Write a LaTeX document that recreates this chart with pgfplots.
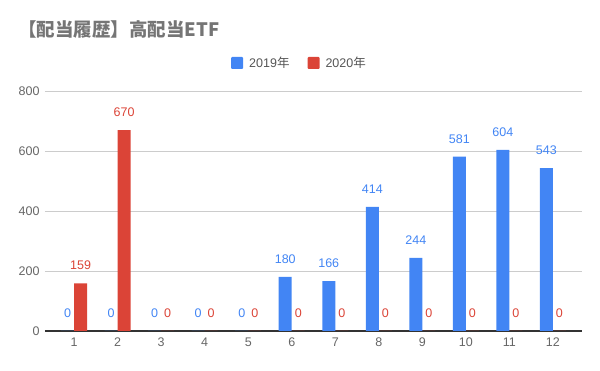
\documentclass[border=0pt]{standalone}
\usepackage{fontspec}
\setmainfont{Liberation Sans}
\newfontfamily\cjk{Noto Sans CJK JP}
\usepackage{pgfplots}
\pgfplotsset{compat=1.18}
\definecolor{cblue}{HTML}{4285F4}
\definecolor{cred}{HTML}{DB4437}
\definecolor{cgrid}{HTML}{CCCCCC}
\definecolor{ctick}{HTML}{666666}
\definecolor{clegend}{HTML}{555555}
\definecolor{ctitle}{HTML}{757575}
\definecolor{caxis}{HTML}{333333}
\begin{document}
\begin{tikzpicture}
\path[use as bounding box] (-45pt,-40pt) rectangle (555pt,331pt);
\begin{axis}[
  scale only axis, width=537pt, height=240pt,
  at={(0pt,0pt)}, anchor=south west,
  ybar=0pt, bar width=13pt,
  xmin=0.33, xmax=12.67, ymin=0, ymax=800,
  xtick={1,...,12}, ytick={0,200,...,800},
  major tick length=0pt,
  ymajorgrids, grid style={cgrid, line width=0.8pt},
  axis x line*=bottom, axis y line*=left,
  x axis line style={caxis, line width=1.2pt, -},
  y axis line style={draw=none},
  tick label style={font=\fontsize{12.5}{13}\selectfont, text=ctick},
  /pgf/number format/assume math mode=true,
  xticklabel style={yshift=-3pt},
  yticklabel style={xshift=-2pt},
  nodes near coords,
  every node near coord/.append style={font=\fontsize{12.5}{13}\selectfont, yshift=10pt},
  legend columns=2,
  legend style={draw=none, fill=none, at={(0.474,1.1167)}, anchor=center,
    font=\fontsize{12.5}{13}\selectfont, text=clegend,
    /tikz/every even column/.append style={column sep=16pt},
    /tikz/every odd column/.append style={column sep=4pt}},
  legend image code/.code={\fill[#1, rounded corners=1pt] (0pt,-6pt) rectangle (12pt,6pt);},
]
\addplot[fill=cblue, draw=none, every node near coord/.append style={text=cblue}] coordinates {
(1,0) (2,0) (3,0) (4,0) (5,0) (6,180) (7,166) (8,414) (9,244) (10,581) (11,604) (12,543)};
\addlegendentry{2019{\cjk 年}}
\addplot[fill=cred, draw=none, every node near coord/.append style={text=cred}] coordinates {
(1,159) (2,670) (3,0) (4,0) (5,0) (6,0) (7,0) (8,0) (9,0) (10,0) (11,0) (12,0)};
\addlegendentry{2020{\cjk 年}}
\end{axis}
\node[anchor=west, font=\cjk\bfseries\fontsize{18.5}{20}\selectfont, text=ctitle, inner sep=0pt] at (-27pt,302pt) {【配当履歴】高配当ETF};
\end{tikzpicture}
\end{document}
